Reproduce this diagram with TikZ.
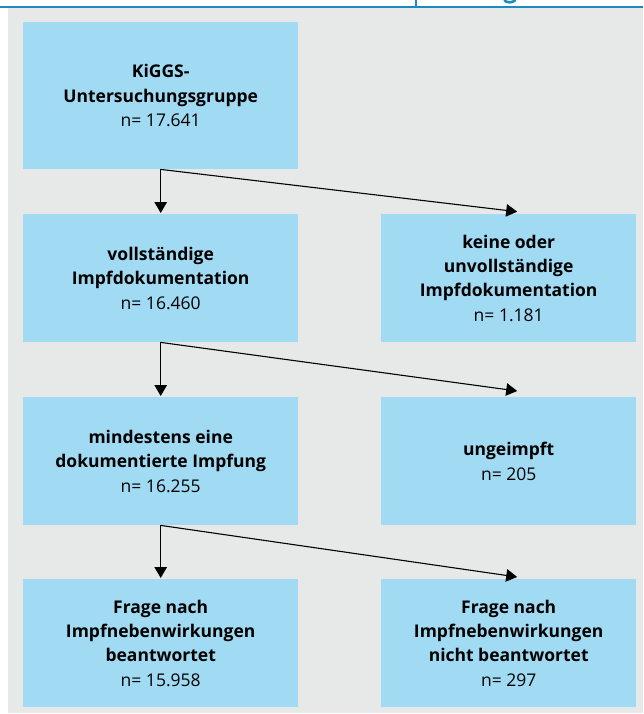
\documentclass[tikz,border=0pt]{standalone}
\usepackage{fontspec}
\setmainfont{Open Sans}
\usetikzlibrary{arrows.meta}
\definecolor{boxblue}{RGB}{160,218,243}
\definecolor{bggray}{RGB}{231,233,232}
\definecolor{headblue}{RGB}{28,138,192}
\tikzset{
  box/.style={fill=boxblue, draw=none, inner sep=0pt, minimum width=275pt, minimum height=128pt,
    align=center, anchor=north west, font=\fontsize{17.5}{24.4}\selectfont},
  arr/.style={line width=1.1pt, draw=black, -{Triangle[width=12.5pt,length=11pt]}},
}
\newcommand{\nval}[1]{\textmd{n= #1}}
\begin{document}
\begin{tikzpicture}[x=1pt,y=-1pt]
\useasboundingbox (0,0) rectangle (643,714);
\fill[white] (0,0) rectangle (643,714);
\fill[bggray] (8,8) rectangle (643,713);
% header rule
\draw[headblue, line width=1.4pt] (0,7) -- (643,7);
\draw[headblue, line width=1.2pt] (416,0) -- (416,7);
% tail of a cut-off header glyph
\draw[headblue, line width=2.6pt, line cap=round] (504.5,0.2) .. controls (506,3) and (513,3) .. (515,0.2);
% boxes
\node[box, minimum height=147pt] (a) at (23,22) {\bfseries KiGGS-\\\bfseries Untersuchungsgruppe\\\nval{17.641}};
\node[box] (b) at (23,214) {\bfseries vollständige\\\bfseries Impfdokumentation\\\nval{16.460}};
\node[box, minimum width=255pt] (c) at (381,214) {\bfseries keine oder\\\bfseries unvollständige\\\bfseries Impfdokumentation\\\nval{1.181}};
\node[box] (d) at (23,397) {\bfseries mindestens eine\\\bfseries dokumentierte Impfung\\\nval{16.255}};
\node[box, minimum width=255pt] (e) at (381,397) {\bfseries ungeimpft\\\nval{205}};
\node[box] (f) at (23,579) {\bfseries Frage nach\\\bfseries Impfnebenwirkungen\\\bfseries beantwortet\\\nval{15.958}};
\node[box, minimum width=255pt] (g) at (381,579) {\bfseries Frage nach\\\bfseries Impfnebenwirkungen\\\bfseries nicht beantwortet\\\nval{297}};
% connectors
\draw[arr, shorten >=1pt] (a.south) -- (b.north);
\draw[arr] (a.south) -- ([xshift=8.5pt,yshift=2.3pt]c.north);
\draw[arr, shorten >=1pt] (b.south) -- (d.north);
\draw[arr] (b.south) -- ([xshift=8.5pt,yshift=6pt]e.north);
\draw[arr, shorten >=1pt] (d.south) -- (f.north);
\draw[arr] (d.south) -- ([xshift=8.5pt,yshift=2pt]g.north);
\end{tikzpicture}
\end{document}
